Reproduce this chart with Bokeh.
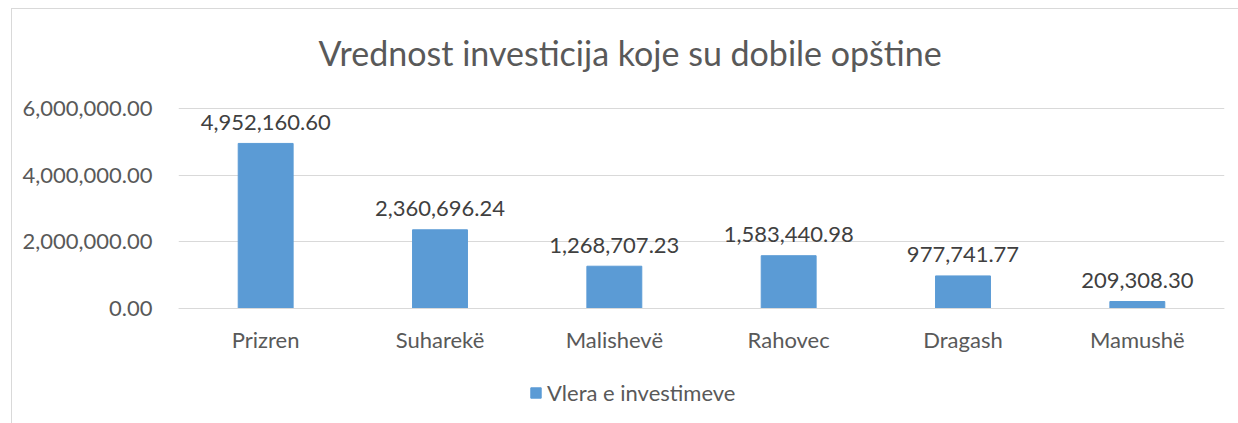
from bokeh.plotting import figure
from bokeh.models import ColumnDataSource, Legend, LegendItem, NumeralTickFormatter, Title, Range1d
from bokeh.core.properties import value
from bokeh.embed import file_html
from bokeh.resources import INLINE

categories = ["Prizren", "Suharekë", "Malishevë", "Rahovec", "Dragash", "Mamushë"]
values = [4952160.60, 2360696.24, 1268707.23, 1583440.98, 977741.77, 209308.30]
labels = ["4,952,160.60", "2,360,696.24", "1,268,707.23", "1,583,440.98", "977,741.77", "209,308.30"]
y_ticks = [0, 2000000, 4000000, 6000000]
series_name = "Vlera e investimeve"
title_text = "Vrednost investicija koje su dobile opštine"

FONT = "Lato"
BLUE = "#5B9BD5"
GREY = "#595959"
GRID = "#d9d9d9"
FS = "22px"

src = ColumnDataSource(dict(cat=categories, val=values, lab=labels))

# frame extends above 6M and below 0 so that the legend sits inside it
p = figure(x_range=categories, y_range=Range1d(-3480000, 6360000), width=1226, height=414,
           frame_width=1046, frame_height=328,
           min_border_left=166, min_border_right=14, min_border_top=86, min_border_bottom=0,
           output_backend="svg", toolbar_location=None, tools="")
p.styles = {"border-left": f"1px solid {GRID}", "border-top": f"1px solid {GRID}",
            "margin-left": "11px", "margin-top": "8px"}
p.outline_line_color = None
p.background_fill_color = "white"
p.border_fill_color = "white"

t = Title(text=title_text, align="left", vertical_align="top", text_font=FONT, text_font_size="34px",
          text_font_style="normal", text_color=GREY, standoff=44, offset=140)
p.add_layout(t, "above")

r = p.vbar(x="cat", top="val", width=0.315, source=src, color=BLUE)
p.text(x="cat", y="val", text="lab", source=src, text_align="center", text_baseline="alphabetic",
       y_offset=-21, text_font=value(FONT), text_font_size=FS, text_color="#404040")

p.yaxis.ticker = y_ticks
p.yaxis.formatter = NumeralTickFormatter(format="0,0.00")
for ax in (p.xaxis[0], p.yaxis[0]):
    ax.major_label_text_font = FONT
    ax.major_label_text_font_size = FS
    ax.major_label_text_color = GREY
    ax.major_tick_line_color = None
    ax.minor_tick_line_color = None
p.yaxis.axis_line_color = None
p.xaxis.axis_line_color = GRID
p.xaxis.fixed_location = 0
p.yaxis.major_label_standoff = 20
p.xaxis.major_label_standoff = 11
p.xgrid.grid_line_color = None
p.ygrid.grid_line_color = GRID
p.ygrid.ticker = y_ticks

legend = Legend(items=[LegendItem(label=series_name, renderers=[r])], location=(351, 18),
                orientation="horizontal", glyph_width=13, glyph_height=13, label_standoff=5,
                padding=0, margin=0, border_line_color=None, background_fill_alpha=0,
                label_text_font=FONT, label_text_font_size=FS, label_text_color=GREY)
p.add_layout(legend)

open("out.html", "w").write(file_html(p, INLINE))
